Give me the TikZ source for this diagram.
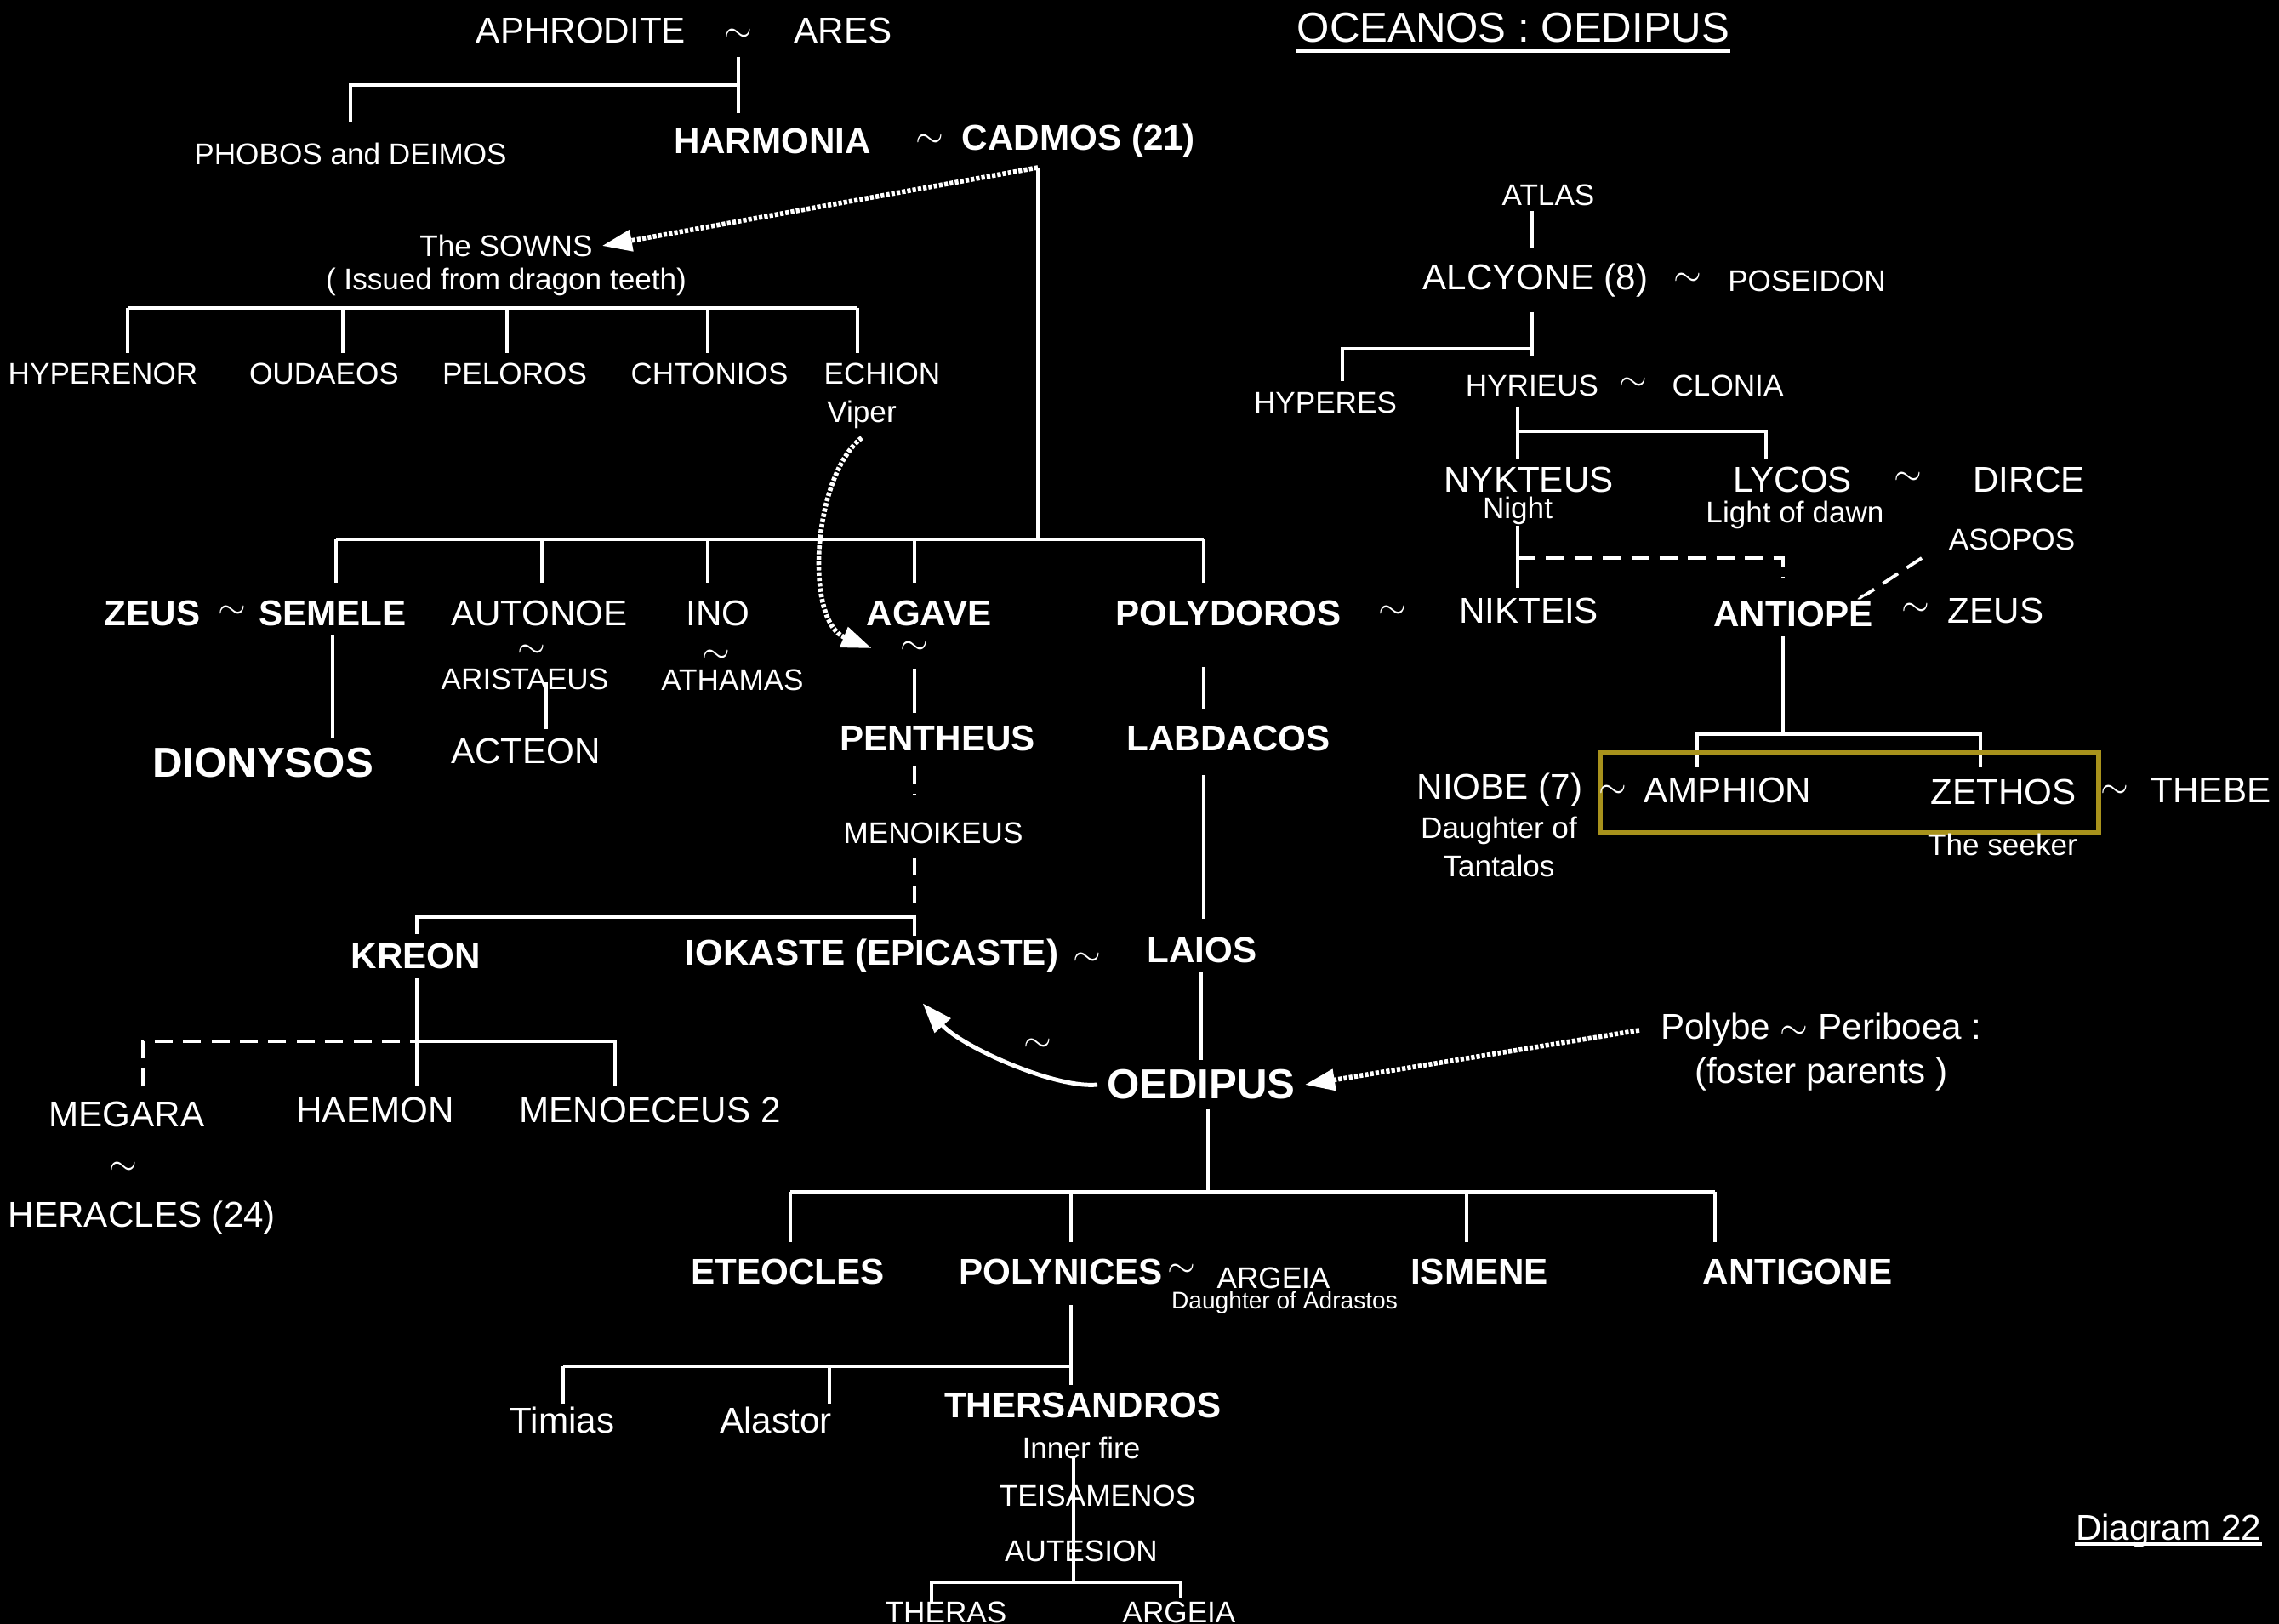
\documentclass[tikz,border=0pt]{standalone}
\usepackage{fontspec}
\setmainfont{Liberation Sans}
\usepackage{tikz}
\usetikzlibrary{arrows.meta}
\definecolor{gold}{HTML}{A8921C}

\begin{document}
\begin{tikzpicture}[
  x=1cm, y=-1cm,
  person/.style={text=white, inner sep=3pt, font=\fontsize{12}{14}\selectfont},
  minor/.style={text=white, inner sep=3pt, font=\fontsize{10}{12}\selectfont},
  tiny/.style={text=white, inner sep=2pt, font=\fontsize{8}{10}\selectfont},
  hero/.style={text=white, inner sep=3pt, font=\fontsize{12}{14}\selectfont\bfseries},
  bighero/.style={text=white, inner sep=3pt, font=\fontsize{14}{16}\selectfont\bfseries},
  wed/.style={text=white, inner sep=0.5pt, font=\fontsize{12}{14}\selectfont},
  heading/.style={text=white, inner xsep=0pt, anchor=base},
  link/.style={draw=white, line width=1.1pt},
  dlink/.style={link, dash pattern=on 6pt off 3.5pt},
  hint/.style={draw=white, line width=1.6pt, dash pattern=on 1.2pt off 0.6pt, -{Triangle[length=10pt, width=7pt]}},
  swing/.style={draw=white, line width=1.4pt, -{Triangle[length=10pt, width=7pt]}}
]
\fill[black] (0,0) rectangle (26.79,19.09);
\useasboundingbox (0,0) rectangle (26.79,19.09);

% titles
\node[heading, font=\fontsize{14}{16}\selectfont] (title) at (17.79,0.495) {OCEANOS : OEDIPUS};
\draw[link] ([yshift=-3pt]title.base west) -- ([yshift=-3pt]title.base east);
\node[heading, font=\fontsize{12}{14}\selectfont] (diagram) at (25.49,18.10) {Diagram 22};
\draw[link] ([yshift=-1.5pt]diagram.base west) -- ([yshift=-1.5pt]diagram.base east);

% Aphrodite and Ares
\node[person] (aphrodite) at (6.83,0.36) {APHRODITE};
\node[wed] (tA) at (8.68,0.42) {$\sim$};
\node[person] (ares) at (9.91,0.36) {ARES};
\node[minor] (phobos) at (4.12,1.81) {PHOBOS and DEIMOS};
\node[hero] (harmonia) at (9.08,1.66) {HARMONIA};
\node[wed] (tH) at (10.93,1.66) {$\sim$};
\node[hero] (cadmos) at (12.68,1.66) {CADMOS (21)};
\coordinate (ab) at (8.68,1.00);
\draw[link] (8.68,0.67) -- (8.68,1.33);
\draw[link] (ab) -| (4.12,1.43);

% the Sowns
\node[minor] (sowns) at (5.95,2.89) {The SOWNS};
\node[minor] (issued) at (5.95,3.31) {( Issued from dragon teeth)};
\coordinate (cj) at (12.20,1.97);
\draw[hint] (cj) -- (sowns.east);
\node[minor] (hyperenor) at (1.21,4.39) {HYPERENOR};
\node[minor] (oudaeos) at (3.81,4.39) {OUDAEOS};
\node[minor] (peloros) at (6.05,4.39) {PELOROS};
\node[minor] (chtonios) at (8.34,4.39) {CHTONIOS};
\node[minor] (echion) at (10.37,4.39) {ECHION};
\node[minor] (viper) at (10.13,4.87) {Viper};
\draw[link] (1.50,3.62) -- (10.08,3.62);
\foreach \x/\nm in {1.50/hyperenor, 4.03/oudaeos, 5.96/peloros, 8.32/chtonios, 10.08/echion}
  \draw[link] (\x,3.62) -- (\x,3.62 |- \nm.north);

% children of Cadmos
\draw[link] (cj) -- (12.20,6.34);
\draw[link] (3.95,6.34) -- (14.15,6.34);
\foreach \x in {3.95, 6.37, 8.32, 10.75, 14.15}
  \draw[link] (\x,6.34) -- (\x,6.85);
\node[hero] (zeus) at (1.79,7.21) {ZEUS};
\node[wed] (tZ) at (2.73,7.20) {$\sim$};
\node[hero] (semele) at (3.91,7.21) {SEMELE};
\node[bighero] (dionysos) at (3.09,8.97) {DIONYSOS};
\draw[link] (semele.south) -- (semele.south |- dionysos.north);
\node[person] (autonoe) at (6.34,7.21) {AUTONOE};
\node[wed] (tAu) at (6.25,7.66) {$\sim$};
\node[minor, inner sep=1pt] (aristaeus) at (6.17,7.98) {ARISTAEUS};
\node[person] (acteon) at (6.18,8.83) {ACTEON};
\draw[link] (6.42,8.02) -- (6.42,8.02 |- acteon.north);
\node[person] (ino) at (8.44,7.21) {INO};
\node[wed] (tI) at (8.42,7.72) {$\sim$};
\node[minor, inner sep=1pt] (athamas) at (8.61,7.99) {ATHAMAS};
\node[hero, inner sep=1pt] (agave) at (10.92,7.21) {AGAVE};
\node[wed] (tAg) at (10.75,7.62) {$\sim$};
\node[hero] (pentheus) at (11.02,8.68) {PENTHEUS};
\node[minor] (menoikeus) at (10.97,9.79) {MENOIKEUS};
\draw[hint] (viper.south) .. controls (9.55,5.6) and (9.45,7.3) .. ([xshift=-9pt]tAg.west);
\draw[link] (10.75,7.86) -- (10.75,8.38);
\draw[dlink] (10.75,9.00) -- (10.75,9.35);
\draw[dlink] (10.75,10.08) -- (10.75,10.78);
\node[hero] (polydoros) at (14.44,7.21) {POLYDOROS};
\node[wed] (tP) at (16.37,7.20) {$\sim$};
\node[hero] (labdacos) at (14.44,8.68) {LABDACOS};
\draw[link] (14.15,7.84) -- (14.15,8.34);
\draw[link] (14.15,9.11) -- (14.15,10.80);

% Kreon and Iokaste
\node[hero] (kreon) at (4.89,11.24) {KREON};
\node[hero] (iokaste) at (10.25,11.24) {IOKASTE (EPICASTE)};
\node[wed] (tK) at (12.78,11.28) {$\sim$};
\node[hero] (laios) at (14.13,11.17) {LAIOS};
\draw[link] (10.75,11.00) |- (4.90,10.78) -- (kreon.north -| 4.90,0);
\draw[link] (4.90,11.50) -- (4.90,12.77);
\draw[dlink] (1.68,12.77) |- (4.90,12.24);
\draw[link] (4.90,12.24) -| (7.23,12.77);
\node[person] (megara) at (1.49,13.10) {MEGARA};
\node[person] (haemon) at (4.41,13.05) {HAEMON};
\node[person] (menoeceus) at (7.64,13.05) {MENOECEUS 2};
\node[wed] (tM) at (1.45,13.74) {$\sim$};
\node[person] (heracles) at (1.67,14.32) {HERACLES (24)};

% Oedipus
\node[bighero] (oedipus) at (14.12,12.75) {OEDIPUS};
\node[wed] (tO) at (12.20,12.29) {$\sim$};
\draw[link] (laios.south -| 14.12,0) -- (oedipus.north -| 14.12,0);
\draw[swing] (oedipus.west) .. controls (12.4,12.8) and (11.3,12.3) .. ([xshift=17pt,yshift=-7pt]iokaste.south);
\node[person] (polybe) at (21.41,12.11) {Polybe $\sim$ Periboea :};
\node[person] (foster) at (21.41,12.63) {(foster parents )};
\draw[hint] ([xshift=-4pt]polybe.west) -- (oedipus.east);
\draw[link] (oedipus.south -| 14.20,0) -- (14.20,14.01);
\draw[link] (9.29,14.01) -- (20.16,14.01);
\foreach \x in {9.29, 12.59, 17.24, 20.16}
  \draw[link] (\x,14.01) -- (\x,14.60);
\node[hero] (eteocles) at (9.26,14.95) {ETEOCLES};
\node[hero] (polynices) at (12.47,14.95) {POLYNICES};
\node[wed] (tPn) at (13.89,14.94) {$\sim$};
\node[minor, inner sep=1pt] (argeia) at (14.97,15.02) {ARGEIA};
\node[tiny, inner sep=1pt] (adrastos) at (15.10,15.31) {Daughter of Adrastos};
\node[hero] (ismene) at (17.39,14.95) {ISMENE};
\node[hero] (antigone) at (21.13,14.95) {ANTIGONE};

% line of Polynices
\draw[link] (12.59,15.34) -- (12.59,16.28);
\draw[link] (6.62,16.06) -- (12.59,16.06);
\draw[link] (6.62,16.06) -- (6.62,16.50);
\draw[link] (9.75,16.06) -- (9.75,16.50);
\node[person] (timias) at (6.61,16.69) {Timias};
\node[person] (alastor) at (9.12,16.69) {Alastor};
\node[hero] (thersandros) at (12.73,16.52) {THERSANDROS};
\draw[link] (12.62,17.14) -- (12.62,18.60);
\node[minor] (innerfire) at (12.71,17.02) {Inner fire};
\node[minor] (teisamenos) at (12.90,17.58) {TEISAMENOS};
\node[minor] (autesion) at (12.71,18.23) {AUTESION};
\draw[link] (10.95,18.85) |- (13.88,18.60) -- (13.88,18.78);
\node[minor] (theras) at (11.12,18.95) {THERAS};
\node[minor] (argeia2) at (13.86,18.95) {ARGEIA};

% Atlas branch
\node[minor] (atlas) at (18.20,2.29) {ATLAS};
\node[person] (alcyone) at (18.05,3.30) {ALCYONE (8)};
\node[wed] (tAl) at (19.84,3.29) {$\sim$};
\node[minor] (poseidon) at (21.24,3.30) {POSEIDON};
\draw[link] (18.01,2.48) -- (18.01,2.92);
\draw[link] (18.01,3.67) -- (18.01,4.18);
\draw[link] (18.01,4.10) -| (15.78,4.48);
\node[minor] (hyperes) at (15.58,4.73) {HYPERES};
\node[minor] (hyrieus) at (18.01,4.53) {HYRIEUS};
\node[wed] (tHy) at (19.20,4.52) {$\sim$};
\node[minor] (clonia) at (20.31,4.53) {CLONIA};
\draw[link] (17.84,4.78) -- (17.84,5.40);
\draw[link] (17.84,5.07) -| (20.76,5.40);
\node[person, inner sep=1pt] (nykteus) at (17.97,5.64) {NYKTEUS};
\node[minor, inner sep=1pt] (night) at (17.84,6.00) {Night};
\node[person] (lycos) at (21.07,5.64) {LYCOS};
\node[wed] (tL) at (22.43,5.63) {$\sim$};
\node[person] (dirce) at (23.85,5.64) {DIRCE};
\node[minor] (dawn) at (21.10,6.05) {Light of dawn};
\node[minor] (asopos) at (23.65,6.34) {ASOPOS};
\draw[link] (17.84,6.18) -- (17.84,6.91);
\draw[dlink] (17.84,6.56) -| (20.96,6.78);
\node[person] (nikteis) at (17.97,7.18) {NIKTEIS};
\node[hero] (antiope) at (21.08,7.18) {ANTIOPÉ};
\node[wed] (tAn) at (22.52,7.17) {$\sim$};
\node[person] (zeus2) at (23.46,7.18) {ZEUS};
\draw[dlink] (22.59,6.56) -- (21.92,7.00);
\draw[link] (antiope.south -| 20.96,0) -- (20.96,8.63);
\draw[link] (19.95,9.02) |- (23.28,8.63) -- (23.28,9.02);
\draw[gold, line width=1.8pt] (18.81,8.85) rectangle (24.67,9.79);
\node[person] (niobe) at (17.63,9.29) {NIOBE (7)};
\node[wed] (tN) at (18.96,9.31) {$\sim$};
\node[person] (amphion) at (20.31,9.29) {AMPHION};
\node[person] (zethos) at (23.55,9.31) {ZETHOS};
\node[wed] (tZe) at (24.86,9.31) {$\sim$};
\node[person] (thebe) at (25.99,9.29) {THEBE};
\node[minor] (daughter) at (17.62,9.76) {Daughter of};
\node[minor] (tantalos) at (17.62,10.18) {Tantalos};
\node[minor] (seeker) at (23.54,9.93) {The seeker};
\end{tikzpicture}
\end{document}
